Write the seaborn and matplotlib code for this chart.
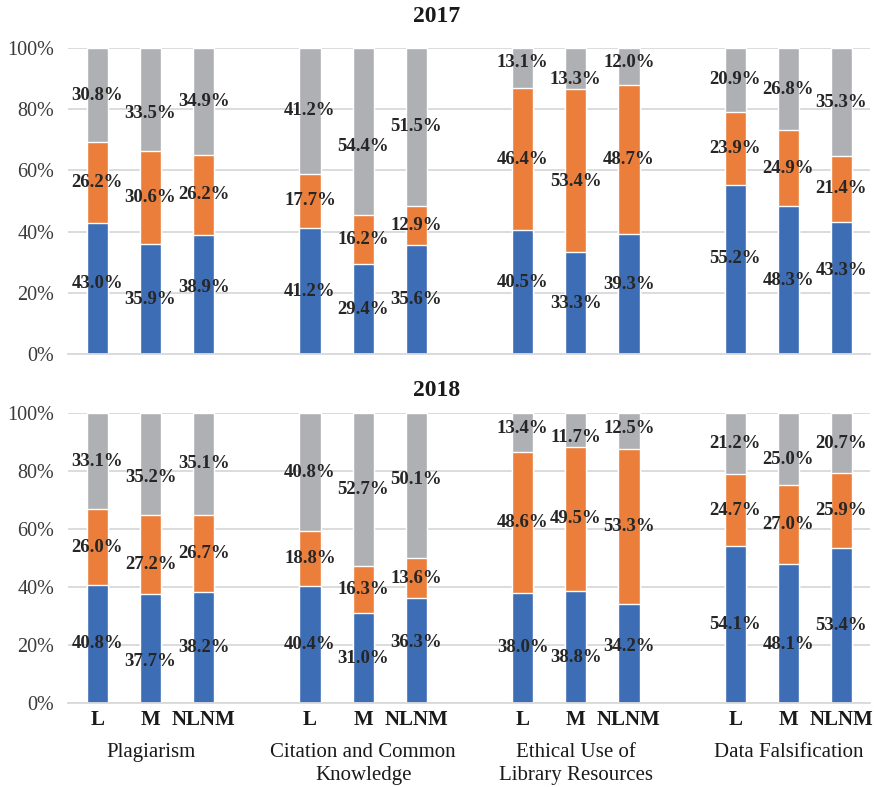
import seaborn as sns
import numpy as np
import pandas as pd
import matplotlib.pyplot as plt

# categorias y grupos
groups = ['Plagiarism', 'Citation and Common\nKnowledge',
          'Ethical Use of\nLibrary Resources', 'Data Falsification']
bars = ['L', 'M', 'NLNM']
years = ['2017', '2018']

# valores (%), orden: grupo x (L, M, NLNM)
blue_2017 = [43.0, 35.9, 38.9, 41.2, 29.4, 35.6, 40.5, 33.3, 39.3, 55.2, 48.3, 43.3]
orange_2017 = [26.2, 30.6, 26.2, 17.7, 16.2, 12.9, 46.4, 53.4, 48.7, 23.9, 24.9, 21.4]
gray_2017 = [30.8, 33.5, 34.9, 41.2, 54.4, 51.5, 13.1, 13.3, 12.0, 20.9, 26.8, 35.3]

blue_2018 = [40.8, 37.7, 38.2, 40.4, 31.0, 36.3, 38.0, 38.8, 34.2, 54.1, 48.1, 53.4]
orange_2018 = [26.0, 27.2, 26.7, 18.8, 16.3, 13.6, 48.6, 49.5, 53.3, 24.7, 27.0, 25.9]
gray_2018 = [33.1, 35.2, 35.1, 40.8, 52.7, 50.1, 13.4, 11.7, 12.5, 21.2, 25.0, 20.7]

series = {
    '2017': [blue_2017, orange_2017, gray_2017],
    '2018': [blue_2018, orange_2018, gray_2018],
}
colors = ['#3D6DB5', '#EB7E3A', '#AFB0B4']

# desplazamiento vertical de las etiquetas (px, positivo = hacia abajo),
# como estaban colocadas a mano en el original
nudge = {
    '2017': [[-5, 0, -7, 0, 0, 0, -10, 0, -9, -11, 0, -17],
             [0, 0, 0, 0, 0, 0, 0, 11, 0, 0, 0, 0],
             [0, 14, 0, 0, 15, 0, -6, 11, -4, 0, 0, 0]],
    '2018': [[0, 13, 0, 0, 0, -8, 0, 11, -7, 0, 11, 0],
             [0, 10, 0, 0, 0, 0, 0, 0, 0, 0, 0, 0],
             [0, 14, 0, 0, 0, -6, -4, 8, -3, 0, 11, 0]],
}

# tabla larga
rows = []
for year in years:
    for gi, g in enumerate(groups):
        for bi, b in enumerate(bars):
            k = gi * 3 + bi
            base = 0.0
            for li in range(3):
                v = series[year][li][k]
                rows.append({'year': year, 'group': g, 'bar': b,
                             'pos': gi * 4 + bi, 'layer': li, 'k': k,
                             'value': v, 'bottom': base, 'top': base + v})
                base += v
df = pd.DataFrame(rows)

sns.set_theme(style='white')
plt.rcParams['font.family'] = ['Liberation Serif', 'DejaVu Serif']

fig = plt.figure(figsize=(8.74, 7.87), dpi=100)
ax1 = fig.add_axes([0.078, 0.550, 0.917, 0.389])
ax2 = fig.add_axes([0.078, 0.1067, 0.917, 0.3685])

for ax, year in [(ax1, '2017'), (ax2, '2018')]:
    sub = df[df['year'] == year]
    # dibujar de arriba hacia abajo (apilado)
    for li in [2, 1, 0]:
        d = sub[sub['layer'] == li]
        sns.barplot(data=d, x='pos', y='top', native_scale=True, width=0.40,
                    color=colors[li], saturation=1, errorbar=None, ax=ax)
    # etiquetas
    for _, r in sub.iterrows():
        dy = nudge[year][int(r['layer'])][int(r['k'])]
        ax.annotate(f"{r['value']:.1f}%",
                    xy=(r['pos'], (r['bottom'] + r['top']) / 2),
                    xytext=(0, -dy * 0.72), textcoords='offset points',
                    ha='center', va='center', fontsize=13.5, fontweight='bold',
                    color='#262626')
    ax.set_xlim(-0.55, 14.53)
    ax.set_ylim(0, 100)
    ax.set_yticks(np.arange(0, 101, 20))
    ax.set_yticklabels([f'{v}%' for v in range(0, 101, 20)])
    ax.tick_params(axis='y', length=0, pad=10, labelsize=14.5, labelcolor='#3a3a3a')
    ax.yaxis.grid(True, color='#D9D9D9', lw=1.3)
    ax.set_axisbelow(True)
    for s in ['left', 'right', 'top']:
        ax.spines[s].set_visible(False)
    ax.spines['bottom'].set_color('#D9D9D9')
    ax.spines['bottom'].set_linewidth(1.3)
    ax.set_xlabel('')
    ax.set_ylabel('')

ax1.set_xticks([])
positions = [gi * 4 + bi for gi in range(len(groups)) for bi in range(len(bars))]
ax2.set_xticks(positions)
ax2.set_xticklabels(bars * len(groups), fontweight='bold', fontsize=15)
ax2.tick_params(axis='x', length=0, pad=5, labelcolor='#1a1a1a')

for gi, g in enumerate(groups):
    ax2.annotate(g, xy=(gi * 4 + 1, 0), xycoords=('data', 'axes fraction'),
                 xytext=(0, -28.5), textcoords='offset points',
                 ha='center', va='top', fontsize=15, color='#1a1a1a',
                 linespacing=1.3)

fig.text(0.5, 1 - 16 / 787, '2017', ha='center', va='center',
         fontsize=17, fontweight='bold', color='#1a1a1a')
fig.text(0.5, 1 - 390 / 787, '2018', ha='center', va='center',
         fontsize=17, fontweight='bold', color='#1a1a1a')

plt.savefig('out.png', dpi=100)
